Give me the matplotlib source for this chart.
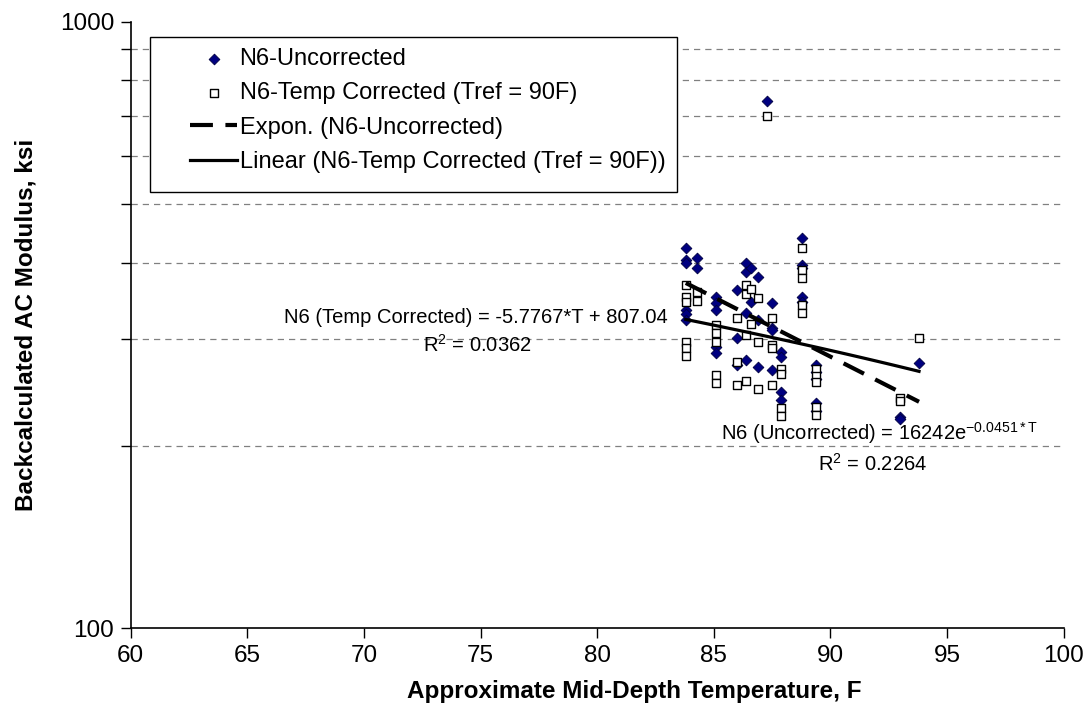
import matplotlib
matplotlib.use("Agg")
import matplotlib.pyplot as plt
from matplotlib.patches import Rectangle
import numpy as np

plt.rcParams['font.family'] = ['Liberation Sans', 'DejaVu Sans']

# mid-depth temperature (F), uncorrected and temperature-corrected moduli (ksi)
temp = [83.8, 83.8, 83.8, 83.8, 83.8, 83.8,
        84.3, 84.3,
        85.1, 85.1, 85.1, 85.1, 85.1,
        86.0, 86.0, 86.0,
        86.4, 86.4, 86.4, 86.4,
        86.6, 86.6,
        86.9, 86.9, 86.9,
        87.3,
        87.5, 87.5, 87.5, 87.5,
        87.9, 87.9, 87.9, 87.9,
        88.8, 88.8, 88.8, 88.8, 88.8,
        89.4, 89.4, 89.4, 89.4, 89.4,
        93.0, 93.0,
        93.8]
mod_uncorr = [424, 405, 400, 335, 330, 322,
              408, 393,
              352, 344, 335, 291, 284,
              361, 301, 272,
              400, 387, 331, 277,
              393, 345,
              380, 322, 270,
              741,
              344, 313, 310, 267,
              285, 280, 245, 238,
              440, 397, 392, 351, 345,
              272, 265, 258, 235, 228,
              223, 221,
              274]
mod_corr = [368, 351, 345, 297, 290, 281,
            359, 346,
            316, 307, 297, 262, 254,
            325, 275, 252,
            368, 356, 305, 256,
            362, 318,
            350, 297, 248,
            698,
            325, 293, 290, 252,
            268, 263, 231, 224,
            424, 390, 378, 341, 331,
            268, 261, 255, 232, 225,
            240, 237,
            301]

# trend lines as fitted
t_fit = np.linspace(83.8, 93.8, 50)
exp_fit = 16242 * np.exp(-0.0451 * t_fit)
lin_fit = -5.7767 * t_fit + 807.04

fig = plt.figure(figsize=(10.89, 7.25), dpi=100)
ax = fig.add_axes([0.12, 0.1334, 0.8567, 0.8367])

ax.set_yscale('log')
ax.set_xlim(60, 100)
ax.set_ylim(100, 1000)

for v in range(200, 1000, 100):
    ax.axhline(v, color='#808080', lw=0.9, ls=(0, (5, 4)), zorder=0)

ax.scatter(temp, mod_uncorr, marker='D', s=30, facecolor='#000080', edgecolor='#000040',
           linewidth=0.6, zorder=3, label='N6-Uncorrected')
ax.scatter(temp, mod_corr, marker='s', s=36, facecolor='white', edgecolor='black',
           linewidth=1.0, zorder=4, label='N6-Temp Corrected (Tref = 90F)')
ax.plot(t_fit, exp_fit, color='black', lw=3, ls=(0, (5.5, 3)), zorder=5,
        label='Expon. (N6-Uncorrected)')
ax.plot(t_fit, lin_fit, color='black', lw=2.3, zorder=5,
        label='Linear (N6-Temp Corrected (Tref = 90F))')

ax.set_xticks(range(60, 101, 5))
ax.set_yticks([100, 1000])
ax.set_yticklabels(['100', '1000'])
ax.set_yticks(range(200, 1000, 100), minor=True)
ax.yaxis.set_minor_formatter(matplotlib.ticker.NullFormatter())
ax.tick_params(axis='both', which='major', direction='out', length=7, width=1,
               labelsize=17.5, pad=5)
ax.tick_params(axis='y', which='minor', direction='out', length=7, width=1)
ax.tick_params(axis='x', which='minor', bottom=False)

for side in ['top', 'right']:
    ax.spines[side].set_visible(False)
for side in ['left', 'bottom']:
    ax.spines[side].set_linewidth(1.2)

ax.set_xlabel('Approximate Mid-Depth Temperature, F', fontsize=17.5, fontweight='bold', labelpad=16)
ax.xaxis.set_label_coords(0.54, -0.085)
ax.set_ylabel('Backcalculated AC Modulus, ksi', fontsize=17.5, fontweight='bold', labelpad=16)

ax.text(74.8, 325, 'N6 (Temp Corrected) = -5.7767*T + 807.04', fontsize=14.5,
        ha='center', va='center')
ax.text(74.85, 293, r'R$^{\mathregular{2}}$ = 0.0362', fontsize=14.5, ha='center', va='center')
ax.text(85.3, 210, r'N6 (Uncorrected) = 16242e$^{\mathregular{-0.0451*T}}$', fontsize=14.5,
        ha='left', va='center')
ax.text(91.8, 187, r'R$^{\mathregular{2}}$ = 0.2264', fontsize=14.5, ha='center', va='center')

# legend without its own frame; box drawn separately so the handles sit further in
leg = ax.legend(loc='upper left', bbox_to_anchor=(190 / 1089, 1 - 48 / 725),
                bbox_transform=fig.transFigure, fontsize=17, frameon=False,
                handlelength=2.0, handletextpad=0.1, borderpad=0.0, borderaxespad=0,
                labelspacing=0.52)
leg.set_zorder(7)
fig.canvas.draw()
lb = leg.get_window_extent().transformed(fig.transFigure.inverted())
x0, y0 = 150 / 1089, 1 - 191.7 / 725
x1, y1 = lb.x1 + 12 / 1089, 1 - 36.7 / 725
ax.add_patch(Rectangle((x0, y0), x1 - x0, y1 - y0, transform=fig.transFigure,
                       facecolor='white', edgecolor='black', lw=1.0, zorder=6,
                       clip_on=False))

fig.savefig('out.png', dpi=100)
